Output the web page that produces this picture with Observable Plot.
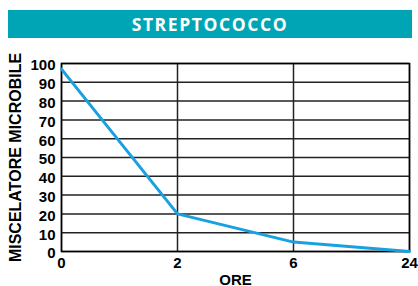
<!DOCTYPE html>
<html><head><meta charset="utf-8">
<script src="https://cdn.jsdelivr.net/npm/d3@7"></script>
<script src="https://cdn.jsdelivr.net/npm/@observablehq/plot@0.6"></script>
<style>
html,body{margin:0;padding:0;background:#fff;width:418px;height:286px;overflow:hidden}
#title{margin:10px 6px 0 8px;height:28px;background:#00A5B5;color:#fff;font:700 17.5px "Open Sans",sans-serif;letter-spacing:1.6px;text-align:center;line-height:28px}
svg{display:block}
</style></head><body>
<div id="title"></div>
<div id="chart"></div>
<script>
const title = "STREPTOCOCCO";
const hours = ["0", "2", "6", "24"];
const values = [97, 20, 5, 0];
const yTicks = [0, 10, 20, 30, 40, 50, 60, 70, 80, 90, 100];
const xLabel = "ORE";
const yLabel = "MISCELATORE MICROBILE";

document.getElementById("title").textContent = title;
const data = hours.map((h, i) => ({h, v: values[i]}));

const chart = Plot.plot({
  width: 418,
  height: 248,
  marginTop: 25,
  marginBottom: 35,
  marginLeft: 61,
  marginRight: 9,
  style: {fontFamily: "'Liberation Sans', Arial, sans-serif", fontWeight: "bold", fontSize: "15px", color: "#000", background: "#fff"},
  x: {type: "point", domain: hours, padding: 0},
  y: {domain: [0, 100]},
  marks: [
    Plot.ruleY(yTicks, {stroke: "#222", strokeWidth: 1.5}),
    Plot.ruleX(hours, {stroke: "#222", strokeWidth: 1.5}),
    Plot.frame({stroke: "#000", strokeWidth: 1.5}),
    Plot.lineY(data, {x: "h", y: "v", stroke: "#18A0E0", strokeWidth: 3}),
    Plot.axisY(yTicks, {tickSize: 0, tickPadding: 6, dy: 2, label: null, fontSize: 15}),
    Plot.axisY([], {label: yLabel, labelAnchor: "center", labelArrow: "none", labelOffset: 52, fontSize: 16, dx: -2}),
    Plot.axisX({tickSize: 0, tickPadding: 6, label: xLabel, labelAnchor: "center", labelArrow: "none", labelOffset: 33, fontSize: 15})
  ]
});
document.getElementById("chart").appendChild(chart);
</script>
</body></html>
